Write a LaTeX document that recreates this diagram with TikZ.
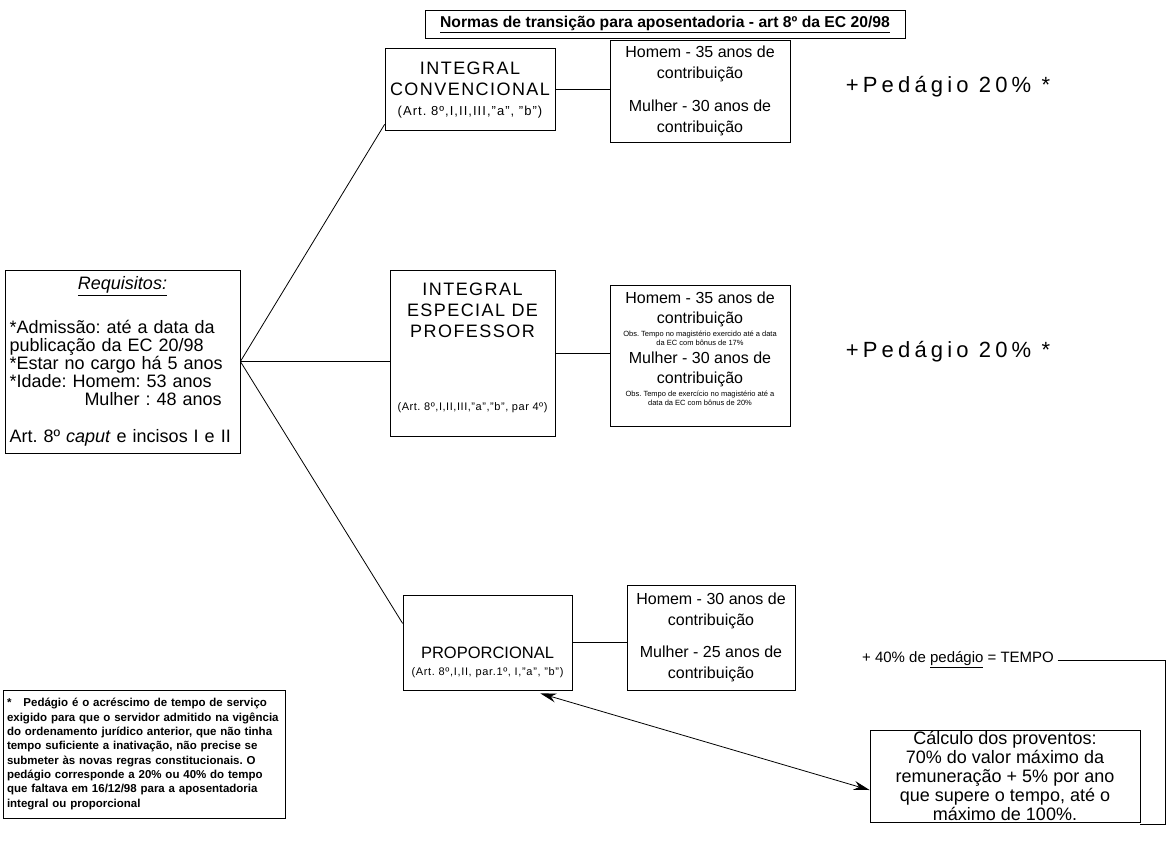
\documentclass[tikz,border=0pt]{standalone}
\usepackage{fontspec}
\setmainfont{Liberation Sans}
\usetikzlibrary{arrows.meta,calc,positioning}
\newcommand\obsfont{\fontsize{7.5}{9}\selectfont}
\newcommand\linhaj[1]{\makebox[\linewidth][s]{#1}}
\frenchspacing

\begin{document}
\begin{tikzpicture}[x=1pt,y=-1pt,line width=0.8pt,
	caixa/.style={draw,inner sep=0pt,align=center,font=\fontsize{16}{20.5}\selectfont},
	texto/.style={align=center,inner sep=0pt,font=\fontsize{16}{20}\selectfont},
	maiusc/.style={font=\fontsize{18}{21}\selectfont\addfontfeature{LetterSpace=8}},
	artigo/.style={font=\fontsize{11}{13}\selectfont\addfontfeature{LetterSpace=5}},
	pedagio/.style={font=\fontsize{22}{25}\selectfont\addfontfeature{LetterSpace=19}},
	seta/.style={<->,>={Stealth[length=16pt,width=9pt]}}]

	\useasboundingbox (0,0) rectangle (1169,860);

	\node[draw,minimum width=480pt,minimum height=28pt,font=\bfseries\fontsize{15.7}{18}\selectfont] (titulo) at (665,24)
		{\underline{Normas de transição para aposentadoria - art 8º da EC 20/98}};

	% ramo integral convencional
	\node[draw,minimum width=170pt,minimum height=82pt] (conv) at (470,89) {};
	\node[texto,maiusc] (convtxt) at (470,79) {INTEGRAL\\CONVENCIONAL};
	\node[artigo,font=\fontsize{13}{14}\selectfont\addfontfeature{LetterSpace=8}] (convart) at (470,112)
		{(Art. 8º,I,II,III,"a", "b")};
	\node[caixa,minimum width=180pt,minimum height=102pt] (homA) at (700,91)
		{Homem - 35 anos de\\contribuição\\[13pt]Mulher - 30 anos de\\contribuição};
	\node[pedagio] (pedA) at (948,87) {+Pedágio 20\% *};

	% requisitos
	\node[draw,inner xsep=4.5pt,inner ysep=0pt,text width=226pt,align=left,minimum height=183pt,
		font=\fontsize{18}{18}\selectfont] (req) at (122.5,361.5)
		{\makebox[\linewidth]{\underline{\textit{Requisitos:}}}\\[24pt]
		\linhaj{*Admissão: até a data da}\\
		publicação da EC 20/98\\
		{*}Estar no cargo há 5 anos\\
		{*}Idade: Homem: 53 anos\\
		\hspace*{75pt}Mulher : 48 anos\\[19pt]
		Art. 8º \textit{caput} e incisos I e II};

	% ramo integral especial
	\node[draw,minimum width=165pt,minimum height=166pt] (esp) at (472.5,353) {};
	\node[texto,maiusc] (esptxt) at (472.5,310) {INTEGRAL\\ESPECIAL DE\\PROFESSOR};
	\node[artigo] (espart) at (472.5,408) {(Art. 8º,I,II,III,"a","b", par 4º)};
	\node[draw,minimum width=180pt,minimum height=141pt] (homB) at (700,355.5) {};
	\node[texto] (homBh) at (700,309) {Homem - 35 anos de\\contribuição};
	\node[texto,font=\obsfont] (obsh) at (700,338)
		{Obs. Tempo no magistério exercido até a data\\da EC com bônus de 17\%};
	\node[texto] (homBm) at (700,369) {Mulher - 30 anos de\\contribuição};
	\node[texto,font=\obsfont] (obsm) at (700,398)
		{Obs. Tempo de exercício no magistério até a\\data da EC com bônus de 20\%};
	\node[pedagio] (pedB) at (948,352) {+Pedágio 20\% *};

	% ramo proporcional
	\node[draw,minimum width=169pt,minimum height=95pt] (prop) at (487.5,642.5) {};
	\node[texto,font=\fontsize{16.5}{18}\selectfont] (proptxt) at (487.5,653) {PROPORCIONAL};
	\node[artigo,font=\fontsize{11}{13}\selectfont\addfontfeature{LetterSpace=6}] (propart) at (487.5,673)
		{(Art. 8º,I,II, par.1º, I,"a", "b")};
	\node[caixa,minimum width=168pt,minimum height=105pt] (homC) at (711,637.5)
		{Homem - 30 anos de\\contribuição\\[12pt]Mulher - 25 anos de\\contribuição};
	\node[font=\fontsize{15}{18}\selectfont] (tempo) at (958,660) {+ 40\% de \underline{pedágio} = TEMPO};
	\node[caixa,minimum width=270pt,minimum height=92pt,font=\fontsize{18}{19}\selectfont] (calculo) at (1005,776)
		{Cálculo dos proventos:\\70\% do valor máximo da\\remuneração + 5\% por ano\\que supere o tempo, até o\\máximo de 100\%.};

	% nota sobre o pedagio
	\node[draw,inner xsep=4pt,inner ysep=0pt,text width=274pt,align=left,minimum height=128pt,
		font=\bfseries\fontsize{11.5}{14.3}\selectfont] (nota) at (144,754)
		{\linhaj{*\hspace{12pt}Pedágio é o acréscimo de tempo de serviço}\\
		\linhaj{exigido para que o servidor admitido na vigência}\\
		\linhaj{do ordenamento jurídico anterior, que não tinha}\\
		\linhaj{tempo suficiente a inativação, não precise se}\\
		\linhaj{submeter às novas regras constitucionais. O}\\
		\linhaj{pedágio corresponde a 20\% ou 40\% do tempo}\\
		\linhaj{que faltava em 16/12/98 para a aposentadoria}\\
		integral ou proporcional};

	% ligacoes
	\draw (req.east) -- ([yshift=6pt]conv.south west);
	\draw (req.east) -- (req.east -| esp.west);
	\draw (req.east) -- ($(prop.north west)!0.3!(prop.south west)$);
	\draw (conv.east) -- (conv.east -| homA.west);
	\draw (esp.east) -- (esp.east -| homB.west);
	\draw (prop.east) -- (prop.east -| homC.west);
	\draw (tempo.east) -| ([xshift=25pt]calculo.east) |- ([yshift=-2pt]calculo.south east);
	\coordinate (pa) at ($(prop.south east)+(-32,3)$);
	\coordinate (pb) at ($(calculo.west)+(0,14)$);
	\draw[seta] (pa) -- (pb);
\end{tikzpicture}
\end{document}
